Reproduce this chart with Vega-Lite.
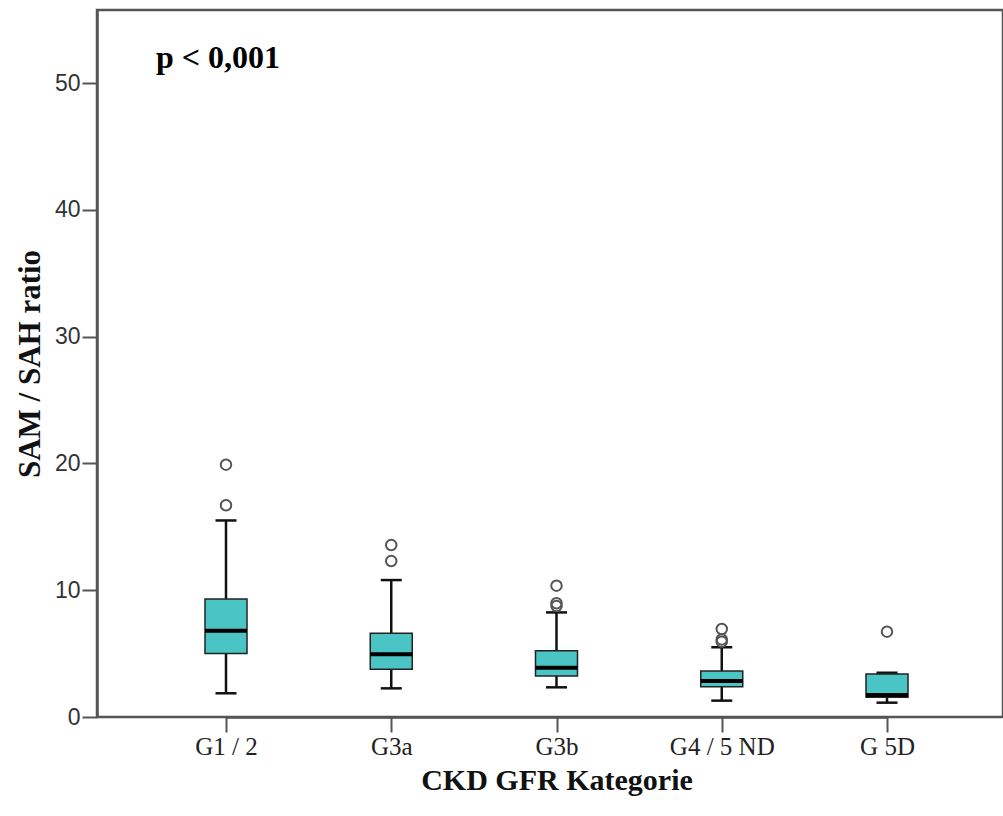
{
  "$schema": "https://vega.github.io/schema/vega-lite/v6.json",
  "autosize": {"type": "none"},
  "width": 906,
  "height": 707,
  "padding": {"left": 97, "top": 10, "right": 0, "bottom": 99},
  "background": "white",
  "config": {
    "view": {"stroke": "#555555", "strokeWidth": 2.5},
    "axis": {"grid": false}
  },
  "datasets": {
    "boxes": [
      {"cat": "G1 / 2", "lower": 1.87, "q1": 5.0, "median": 6.8, "q3": 9.3, "upper": 15.5},
      {"cat": "G3a", "lower": 2.26, "q1": 3.76, "median": 4.94, "q3": 6.6, "upper": 10.8},
      {"cat": "G3b", "lower": 2.34, "q1": 3.23, "median": 3.89, "q3": 5.23, "upper": 8.25},
      {"cat": "G4 / 5 ND", "lower": 1.29, "q1": 2.39, "median": 2.84, "q3": 3.63, "upper": 5.5},
      {"cat": "G 5D", "lower": 1.13, "q1": 1.55, "median": 1.73, "q3": 3.39, "upper": 3.49}
    ],
    "outliers": [
      {"cat": "G1 / 2", "value": 19.9},
      {"cat": "G1 / 2", "value": 16.7},
      {"cat": "G3a", "value": 13.56},
      {"cat": "G3a", "value": 12.3},
      {"cat": "G3b", "value": 10.36},
      {"cat": "G3b", "value": 8.97},
      {"cat": "G3b", "value": 8.75},
      {"cat": "G4 / 5 ND", "value": 6.94},
      {"cat": "G4 / 5 ND", "value": 6.12},
      {"cat": "G4 / 5 ND", "value": 5.94},
      {"cat": "G 5D", "value": 6.73}
    ],
    "label": [{"cat": "G1 / 2", "value": 52, "text": "p < 0,001"}]
  },
  "encoding": {
    "x": {
      "field": "cat",
      "type": "nominal",
      "sort": ["G1 / 2", "G3a", "G3b", "G4 / 5 ND", "G 5D"],
      "scale": {"type": "point", "domain": ["G1 / 2", "G3a", "G3b", "G4 / 5 ND", "G 5D"], "range": [129, 790], "padding": 0},
      "axis": {
        "title": "CKD GFR Kategorie",
        "titleFont": "Liberation Serif",
        "titleFontWeight": "bold",
        "titleFontSize": 30,
        "titleColor": "#111111",
        "titlePadding": 6,
        "labelFont": "Liberation Serif",
        "labelFontSize": 25,
        "labelColor": "#222222",
        "labelPadding": 2,
        "labelAngle": 0,
        "tickSize": 15,
        "tickColor": "#555555",
        "tickWidth": 2,
        "domainColor": "#555555",
        "domainWidth": 2.5
      }
    }
  },
  "layer": [
    {
      "data": {"name": "boxes"},
      "mark": {"type": "rule", "color": "#111111", "strokeWidth": 2.5},
      "encoding": {
        "y": {
          "field": "lower",
          "type": "quantitative",
          "scale": {"domain": [0, 55.76], "nice": false, "zero": false},
          "axis": {
            "values": [0, 10, 20, 30, 40, 50],
            "title": "SAM / SAH ratio",
            "titleFont": "Liberation Serif",
            "titleFontWeight": "bold",
            "titleFontSize": 31,
            "titleColor": "#111111",
            "titlePadding": 8,
            "labelFont": "Liberation Sans",
            "labelFontSize": 23,
            "labelColor": "#333333",
            "labelPadding": 2,
            "tickSize": 15,
            "tickColor": "#555555",
            "tickWidth": 2,
            "domainColor": "#555555",
            "domainWidth": 2.5
          }
        },
        "y2": {"field": "upper"}
      }
    },
    {
      "data": {"name": "boxes"},
      "mark": {"type": "tick", "color": "#111111", "opacity": 1, "size": 21, "thickness": 2.5},
      "encoding": {"y": {"field": "lower", "type": "quantitative"}}
    },
    {
      "data": {"name": "boxes"},
      "mark": {"type": "tick", "color": "#111111", "opacity": 1, "size": 21, "thickness": 2.5},
      "encoding": {"y": {"field": "upper", "type": "quantitative"}}
    },
    {
      "data": {"name": "boxes"},
      "mark": {"type": "bar", "width": 42, "fill": "#4BC4C6", "stroke": "#222222", "strokeWidth": 1.5, "opacity": 1},
      "encoding": {
        "y": {"field": "q1", "type": "quantitative"},
        "y2": {"field": "q3"}
      }
    },
    {
      "data": {"name": "boxes"},
      "mark": {"type": "tick", "color": "#000000", "opacity": 1, "size": 42, "thickness": 4},
      "encoding": {"y": {"field": "median", "type": "quantitative"}}
    },
    {
      "data": {"name": "outliers"},
      "mark": {"type": "point", "shape": "circle", "filled": false, "stroke": "#555555", "strokeWidth": 2, "size": 110, "opacity": 1},
      "encoding": {"y": {"field": "value", "type": "quantitative"}}
    },
    {
      "data": {"name": "label"},
      "mark": {"type": "text", "font": "Liberation Serif", "fontWeight": "bold", "fontSize": 32, "color": "#000000", "align": "center", "baseline": "middle", "dx": -8},
      "encoding": {
        "y": {"field": "value", "type": "quantitative"},
        "text": {"field": "text"}
      }
    }
  ]
}
